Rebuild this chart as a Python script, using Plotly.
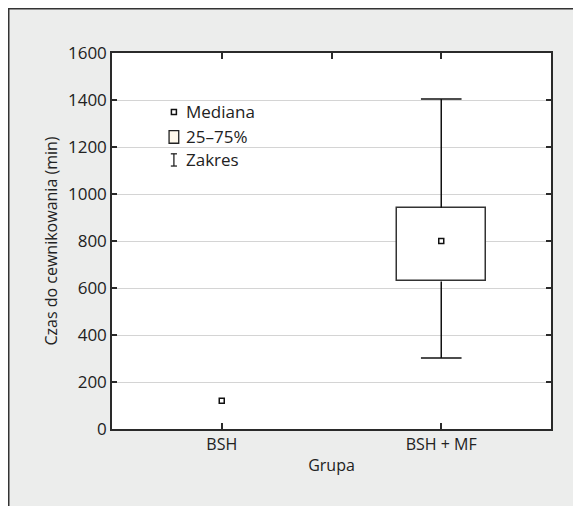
import plotly.graph_objects as go

groups = ["BSH", "BSH + MF"]
medians = [120, 800]
q1 = [None, 628]
q3 = [None, 941]
mins = [None, 302]
maxs = [None, 1404]
y_ticks = [0, 200, 400, 600, 800, 1000, 1200, 1400, 1600]
legend_labels = ["Mediana", "25–75%", "Zakres"]

FONT = "Open Sans"
DARK = "#2a2a2a"
xi = [0, 1]

ML, MR, MT, MB = 104, 38, 45, 85
PW = 581 - ML - MR
PH = 506 - MT - MB

fig = go.Figure()

bx = [i for i, v in zip(xi, q1) if v is not None]
bq1 = [v for v in q1 if v is not None]
bq3 = [v for v in q3 if v is not None]
bmax = [v for v in maxs if v is not None]
bmin = [v for v in mins if v is not None]

# Boxes (25-75%)
fig.add_trace(go.Bar(
    x=bx, y=[b - a for a, b in zip(bq1, bq3)], base=bq1, width=0.405,
    marker=dict(color="white", line=dict(color="#333333", width=1.5)),
    showlegend=False, hoverinfo="skip"))

# Whisker stems
wx, wy = [], []
for x, a, b, lo, hi in zip(bx, bq1, bq3, bmin, bmax):
    wx += [x, x, None, x, x, None]
    wy += [b, hi, None, a, lo, None]
fig.add_trace(go.Scatter(x=wx, y=wy, mode="lines", line=dict(color="#111111", width=1.5),
                         showlegend=False, hoverinfo="skip"))
# Whisker caps
fig.add_trace(go.Scatter(
    x=bx + bx, y=bmax + bmin, mode="markers",
    marker=dict(symbol="line-ew", size=29, line=dict(color="#111111", width=1.5)),
    showlegend=False, hoverinfo="skip"))

# Medians
fig.add_trace(go.Scatter(
    x=xi, y=medians, mode="markers",
    marker=dict(symbol="square", size=5, color="white", line=dict(color="#111111", width=1.5)),
    showlegend=False, hoverinfo="skip"))

# invisible trace for top axis
fig.add_trace(go.Scatter(x=[0], y=[0], xaxis="x2", mode="markers",
                         marker=dict(opacity=0), showlegend=False, hoverinfo="skip"))

# Legend (manual)
lx_icon = -0.218
lx_text = -0.17
ly = [1349, 1243, 1145]
fig.add_trace(go.Scatter(
    x=[lx_icon], y=[ly[0]], mode="markers",
    marker=dict(symbol="square", size=5, color="white", line=dict(color="#111111", width=1.5)),
    showlegend=False, hoverinfo="skip"))
for label, yv in zip(legend_labels, ly):
    fig.add_annotation(x=lx_text, y=yv, text=label, showarrow=False, xanchor="left",
                       yanchor="middle", font=dict(family=FONT, size=17, color="#222222"))

# 25-75% icon
fig.add_shape(type="rect", xref="x", yref="y", x0=lx_icon - 0.022, x1=lx_icon + 0.022,
              y0=ly[1] - 27, y1=ly[1] + 27,
              line=dict(color="#222222", width=1.3), fillcolor="#FFF9EC")
# Zakres icon
for seg in [(lx_icon, ly[2] - 26, lx_icon, ly[2] + 26),
            (lx_icon - 0.014, ly[2] + 26, lx_icon + 0.014, ly[2] + 26),
            (lx_icon - 0.014, ly[2] - 26, lx_icon + 0.014, ly[2] - 26)]:
    fig.add_shape(type="line", xref="x", yref="y", x0=seg[0], y0=seg[1], x1=seg[2], y1=seg[3],
                  line=dict(color="#222222", width=1.3))

# Frame background
fig.add_shape(type="rect", xref="paper", yref="paper",
              x0=(-ML + 0.75) / PW, x1=1.3, y0=-0.4, y1=1 + (MT - 0.75) / PH,
              line=dict(color="#333333", width=1.5), fillcolor="#ECEDEC", layer="below")
fig.add_shape(type="rect", xref="paper", yref="paper", x0=0, x1=1, y0=0, y1=1,
              line=dict(width=0), fillcolor="white", layer="below")

fig.update_layout(
    width=581, height=506,
    margin=dict(l=ML, r=MR, t=MT, b=MB),
    paper_bgcolor="white", plot_bgcolor="white",
    font=dict(family=FONT, size=16, color="#222222"),
    bargap=0,
    xaxis=dict(range=[-0.5, 1.5], tickvals=xi, ticktext=groups, ticks="inside", ticklen=6,
               tickcolor=DARK, tickwidth=1.5, showline=True, linecolor=DARK, linewidth=1.5,
               mirror=True, showgrid=False, zeroline=False,
               title=dict(text="Grupa", font=dict(family=FONT, size=16), standoff=6),
               tickfont=dict(family=FONT, size=16)),
    xaxis2=dict(range=[-0.5, 1.5], overlaying="x", side="top", tickvals=[0, 0.5, 1],
                ticks="inside", ticklen=6, tickcolor=DARK, tickwidth=1.5,
                showticklabels=False, showgrid=False, zeroline=False, showline=False),
    yaxis=dict(range=[0, 1600], tickvals=y_ticks, ticks="inside", ticklen=5,
               tickcolor=DARK, tickwidth=1.5, showline=True, linecolor=DARK, linewidth=1.5,
               mirror="ticks", showgrid=True, gridcolor="#D4D4D4", gridwidth=1,
               zeroline=False,
               title=dict(text="Czas do cewnikowania (min)", font=dict(family=FONT, size=16), standoff=6),
               tickfont=dict(family=FONT, size=17)),
)

fig.write_html("out.html")
